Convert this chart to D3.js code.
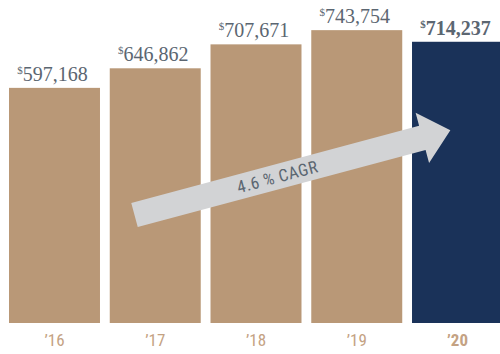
<!DOCTYPE html>
<html>
<head>
<meta charset="utf-8">
<script src="https://cdn.jsdelivr.net/npm/d3@7"></script>
<style>
  html, body { margin: 0; padding: 0; background: #fff; }
  svg { display: block; }
</style>
</head>
<body>
<div id="chart"></div>
<script>
// Revenue by fiscal year
const years = ["’16", "’17", "’18", "’19", "’20"];
const values = [597168, 646862, 707671, 743754, 714237];
const growthLabel = "4.6 % CAGR";

const W = 500, H = 354;
const baseY = 323;

const tan = "#b99877";
const navy = "#1a3259";
const labelGray = "#5b6671";
const arrowGray = "#d2d3d5";

const svg = d3.select("#chart").append("svg")
  .attr("width", W).attr("height", H);

const x = d3.scaleBand()
  .domain(years)
  .range([9, 503])
  .paddingInner(0.097)
  .paddingOuter(0);

const y = d3.scaleLinear()
  .domain([0, 800000])
  .range([baseY, baseY - 315]);

const isLast = (d, i) => i === years.length - 1;

// Bars
svg.append("g").selectAll("rect")
  .data(values)
  .join("rect")
  .attr("x", (d, i) => x(years[i]))
  .attr("y", d => y(d))
  .attr("width", x.bandwidth())
  .attr("height", d => y(0) - y(d))
  .attr("fill", (d, i) => isLast(d, i) ? navy : tan);

// Value labels with a raised dollar sign
const fmt = d3.format(",");
const vl = svg.append("g").selectAll("text")
  .data(values)
  .join("text")
  .attr("x", (d, i) => x(years[i]) + x.bandwidth() / 2 - 2)
  .attr("y", d => y(d) - 7)
  .attr("text-anchor", "middle")
  .attr("font-family", "'Liberation Serif', 'DejaVu Serif', serif")
  .attr("font-size", 20)
  .attr("font-weight", (d, i) => isLast(d, i) ? "bold" : "normal")
  .attr("fill", labelGray);
vl.append("tspan")
  .attr("font-size", 11)
  .attr("dy", -7)
  .text("$");
vl.append("tspan")
  .attr("dy", 7)
  .text(d => fmt(d));

// Category axis labels
const xAxis = svg.append("g")
  .attr("transform", `translate(0,${baseY})`)
  .call(d3.axisBottom(x).tickSize(0).tickPadding(0));
xAxis.select(".domain").remove();
xAxis.selectAll("text")
  .attr("y", 23)
  .attr("dy", 0)
  .attr("font-family", "'Liberation Sans Narrow', 'Roboto Condensed', 'Liberation Sans', sans-serif")
  .attr("font-size", 17)
  .attr("font-weight", (d, i) => isLast(d, i) ? "bold" : "normal")
  .attr("fill", "#c4a283");

// Growth arrow, drawn in its own rotated frame
const angle = -15;
const shaftLen = 298, half = 12.5, headHalf = 26, tipLen = 327;
const arrow = svg.append("g")
  .attr("transform", `translate(134.5,215) rotate(${angle})`);
arrow.append("path")
  .attr("d", d3.line()([
    [0, -half], [shaftLen, -half], [shaftLen, -headHalf], [tipLen, 0],
    [shaftLen, headHalf], [shaftLen, half], [0, half]
  ]) + "Z")
  .attr("fill", arrowGray);
arrow.append("text")
  .attr("x", 148)
  .attr("y", 6)
  .attr("text-anchor", "middle")
  .attr("font-family", "'Liberation Sans Narrow', 'Roboto Condensed', 'Liberation Sans', sans-serif")
  .attr("font-size", 17)
  .attr("letter-spacing", 0.5)
  .attr("fill", labelGray)
  .text(growthLabel);
</script>
</body>
</html>
